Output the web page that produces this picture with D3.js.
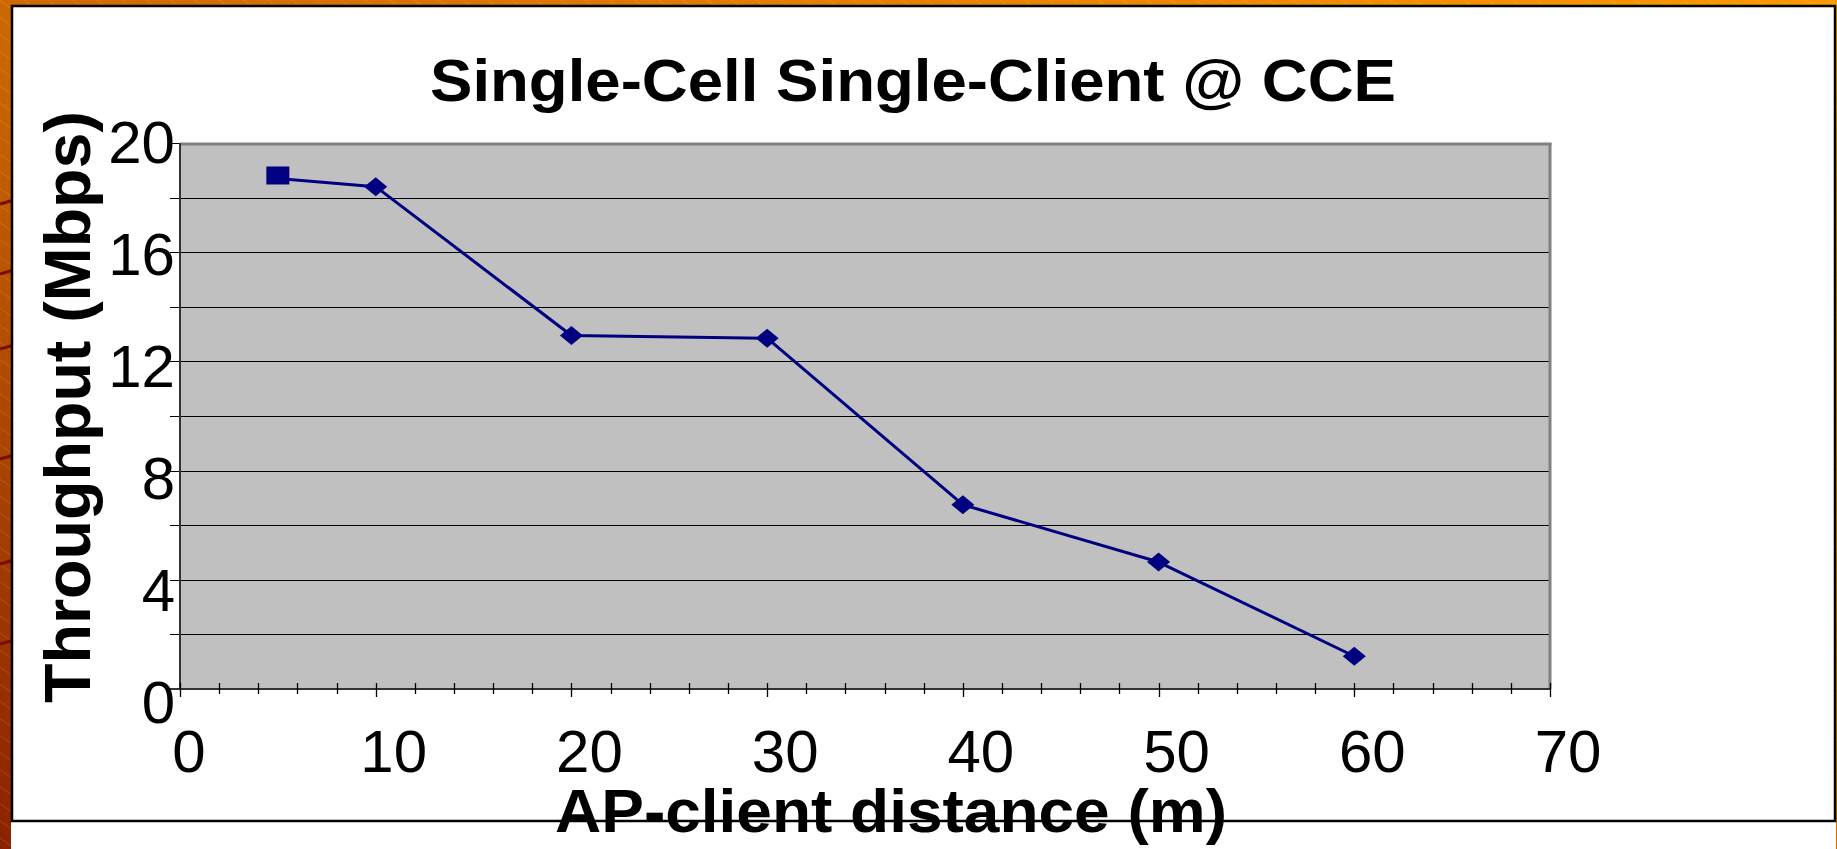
<!DOCTYPE html>
<html>
<head>
<meta charset="utf-8">
<script src="https://d3js.org/d3.v7.min.js"></script>
<style>
    html, body { margin: 0; padding: 0; background: #fff; overflow: hidden; }
    svg { display: block; }
</style>
</head>
<body>
<div class="svg-container"></div>
<script>

// chart values
var distances = [5, 10, 20, 30, 40, 50, 60];
var throughput = [18.7, 18.4, 12.95, 12.85, 6.75, 4.65, 1.2];
var yTickLabels = [0, 4, 8, 12, 16, 20];
var xTickLabels = [0, 10, 20, 30, 40, 50, 60, 70];
var titleText = "Single-Cell Single-Client @ CCE";
var xTitle = "AP-client distance (m)";
var yTitle = "Throughput (Mbps)";

function render(){

    var width = 1837;
    var height = 849;
    var font = "'Liberation Sans', Arial, sans-serif";

    var svg = d3.select(".svg-container").append("svg")
    .attr("width", width)
    .attr("height", height);

    var defs = svg.append("defs");

    // slide background
    var grad = defs.append("linearGradient")
    .attr("id", "bg")
    .attr("x1", 1).attr("y1", 0)
    .attr("x2", 0).attr("y2", 1);
    grad.append("stop").attr("offset", 0).attr("stop-color", "#ff9900");
    grad.append("stop").attr("offset", 0.55).attr("stop-color", "#c86400");
    grad.append("stop").attr("offset", 1).attr("stop-color", "#8a2200");

    var pat = defs.append("pattern")
    .attr("id", "hatch")
    .attr("width", 14)
    .attr("height", 14)
    .attr("patternUnits", "userSpaceOnUse")
    .attr("patternTransform", "rotate(35)");
    pat.append("line")
    .attr("x1", 0).attr("y1", 0)
    .attr("x2", 14).attr("y2", 0)
    .style("stroke", "rgba(255,255,255,0.22)")
    .style("stroke-width", 1);

    svg.append("rect")
    .attr("width", width).attr("height", height)
    .style("fill", "url(#bg)");
    svg.append("rect")
    .attr("width", width).attr("height", height)
    .style("fill", "url(#hatch)");

    // dark streaks on the left edge
    [200, 270, 345, 455, 560, 640].forEach(function(sy){
        svg.append("line")
        .attr("x1", 0).attr("y1", sy + 4)
        .attr("x2", 14).attr("y2", sy)
        .style("stroke", "#7a0c00")
        .style("stroke-width", 3);
    });

    // white strip under the frame
    svg.append("rect")
    .attr("x", 11).attr("y", 821)
    .attr("width", 1825).attr("height", 28)
    .style("fill", "white");

    // chart frame
    svg.append("rect")
    .attr("x", 12).attr("y", 6)
    .attr("width", 1823).attr("height", 815)
    .style("fill", "white")
    .style("stroke", "black")
    .style("stroke-width", 2.5);

    // scales
    var x = d3.scaleLinear().domain([0, 70]).range([180, 1550]);
    var y = d3.scaleLinear().domain([0, 20]).range([689, 143]);
    // tick labels sit a bit more spread than the ticks
    var yLab = d3.scaleLinear().domain([0, 20]).range([723, 163]);

    // plot area
    svg.append("rect")
    .attr("x", x(0)).attr("y", y(20))
    .attr("width", x(70) - x(0))
    .attr("height", y(0) - y(20))
    .style("fill", "#c0c0c0");

    // grid lines + outside y ticks
    svg.append("g")
    .selectAll("line")
    .data(d3.range(0, 21, 2))
    .enter().append("line")
    .attr("x1", x(0) - 10)
    .attr("x2", function(d){ return (d === 0 || d === 20) ? x(0) : x(70); })
    .attr("y1", function(d){ return Math.round(y(d)) + 0.5; })
    .attr("y2", function(d){ return Math.round(y(d)) + 0.5; })
    .style("stroke", "black")
    .style("stroke-width", 1);

    // plot border top / right
    svg.append("line")
    .attr("x1", x(0)).attr("y1", y(20) + 1)
    .attr("x2", x(70) + 1.5).attr("y2", y(20) + 1)
    .style("stroke", "#808080")
    .style("stroke-width", 3);
    svg.append("line")
    .attr("x1", x(70)).attr("y1", y(20))
    .attr("x2", x(70)).attr("y2", y(0))
    .style("stroke", "#808080")
    .style("stroke-width", 3);

    // axes lines
    svg.append("line")
    .attr("x1", x(0)).attr("y1", y(20))
    .attr("x2", x(0)).attr("y2", y(0) + 1)
    .style("stroke", "#333")
    .style("stroke-width", 2);
    svg.append("line")
    .attr("x1", x(0) - 10).attr("y1", y(0))
    .attr("x2", x(70)).attr("y2", y(0))
    .style("stroke", "#333")
    .style("stroke-width", 2);

    // x ticks, crossing the axis
    svg.append("g")
    .selectAll("line")
    .data(d3.range(0, 71, 2))
    .enter().append("line")
    .attr("x1", function(d){ return Math.round(x(d)) + 0.5; })
    .attr("x2", function(d){ return Math.round(x(d)) + 0.5; })
    .attr("y1", y(0) - 6)
    .attr("y2", function(d){ return d % 10 === 0 ? y(0) + 8 : y(0) + 5; })
    .style("stroke", "black")
    .style("stroke-width", 1.3);

    // y tick labels
    svg.append("g")
    .selectAll("text")
    .data(yTickLabels)
    .enter().append("text")
    .attr("x", 175)
    .attr("y", function(d){ return yLab(d); })
    .style("text-anchor", "end")
    .style("font-family", font)
    .style("font-size", "60px")
    .text(function(d){ return d; });

    // x tick labels
    svg.append("g")
    .selectAll("text")
    .data(xTickLabels)
    .enter().append("text")
    .attr("x", function(d){ return x(d) + (String(d).length > 1 ? 18 : 9); })
    .attr("y", 772)
    .style("text-anchor", "middle")
    .style("font-family", font)
    .style("font-size", "60px")
    .text(function(d){ return d; });

    // title
    svg.append("text")
    .attr("x", 430)
    .attr("y", 101)
    .attr("textLength", 966)
    .attr("lengthAdjust", "spacingAndGlyphs")
    .style("font-family", font)
    .style("font-weight", "bold")
    .style("font-size", "60px")
    .text(titleText);

    // X axis title
    svg.append("text")
    .attr("x", 555)
    .attr("y", 832)
    .attr("textLength", 672)
    .attr("lengthAdjust", "spacingAndGlyphs")
    .style("font-family", font)
    .style("font-weight", "bold")
    .style("font-size", "62px")
    .text(xTitle);

    // Y axis title
    svg.append("text")
    .attr("transform", "translate(90,407) rotate(-90)")
    .attr("x", 0)
    .attr("y", 0)
    .attr("textLength", 592)
    .attr("lengthAdjust", "spacingAndGlyphs")
    .style("text-anchor", "middle")
    .style("font-family", font)
    .style("font-weight", "bold")
    .style("font-size", "64px")
    .text(yTitle);

    // series
    var data = distances.map(function(d, i){ return { dist: d, val: throughput[i] }; });

    var line = d3.line()
    .x(function(d){ return x(d.dist); })
    .y(function(d){ return y(d.val); });

    svg.append("path")
    .datum(data)
    .attr("d", line)
    .attr("fill", "none")
    .attr("stroke", "#000080")
    .attr("stroke-width", 3)
    .attr("stroke-linejoin", "round");

    // markers: first point is a square, the rest diamonds
    svg.append("g")
    .selectAll("path")
    .data(data)
    .enter().append("path")
    .attr("transform", function(d){ return "translate(" + x(d.dist) + "," + y(d.val) + ")"; })
    .attr("d", function(d, i){
        if(i === 0) return "M-11.5,-12L11.5,-12L11.5,6L-11.5,6Z";
        return "M0,-9.5L11.5,0L0,9.5L-11.5,0Z";
    })
    .style("fill", "#000080");
}

render();
</script>
</body>
</html>
